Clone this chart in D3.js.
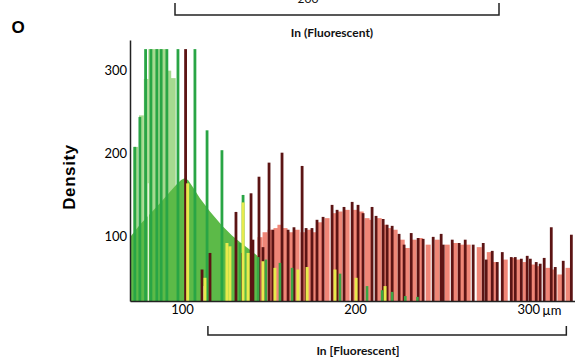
<!DOCTYPE html>
<html>
<head>
<meta charset="utf-8">
<script src="https://cdn.jsdelivr.net/npm/d3@7"></script>
<style>
  body { margin: 0; background: #fff; }
  svg { display: block; }
  .tick text { font-family: Lato, "Liberation Sans", sans-serif; font-size: 13px; fill: #000; }
</style>
</head>
<body>
<div id="chart"></div>
<script>
// density values, [x (um), density]
var greenArea = [[70,99],[75.7,114],[81.5,127],[87.3,140],[93.1,154],[97,163],[99.5,168],[101.5,170],[103.5,168],[105.8,161],[110.4,146],[116.2,130],[123.1,113],[128.9,101],[134.7,91],[139.3,84],[143.9,76],[146,72]];
var paleBars = [[73.3,208],[76.6,246],[79.4,290],[82,326],[84.4,326],[87,326],[89.6,326],[92.4,300],[95,291]];
var greenSpikes = [[72.8,208],[75.7,244],[79,326],[82.1,326],[85.5,326],[88,326],[91.3,326],[97.7,326],[107.5,326],[114.5,228],[123.1,204],[135.3,150]];
var whiteLines = [[80.6,164],[112.5,40]];
var salmonBars = [[145.1,99],[148,105],[150.9,108],[154.3,110],[156.6,114],[159.5,110],[163,105],[166.5,108],[169.9,105],[173.4,108],[176.3,105],[179.8,117],[183.8,122],[187.9,128],[191.3,130],[195.4,132],[200,132],[203.5,130],[206.9,122],[208.7,120],[213.9,122],[217.3,114],[220.2,110],[223.1,108],[227.2,96],[230.1,86],[234.1,96],[237.6,98],[242.2,90],[247.4,96],[253.2,90],[257.8,92],[261.8,90],[265.3,90],[271.7,87],[277.5,81],[280.9,69],[286.7,72],[291.3,74],[294.2,72],[298.2,69],[302.9,66],[305.8,64],[311.4,62],[314.3,60],[318.3,54],[323,62]];
var maroonSpikes = [[102.1,326],[111.6,60],[116.2,80],[131.2,129.5],[134.7,80],[139.9,152],[141,96],[144.5,172],[146.8,87],[150.3,189],[152.5,108],[157.8,201],[161.3,108],[164.7,111],[169.4,185],[171.7,110],[175.1,110],[178,120],[181.5,123.5],[186.7,138],[189.6,132],[193.6,135.5],[198.3,141.6],[201.7,138],[204.6,128],[209.8,135.5],[212.1,124.7],[216.2,121],[218.5,114],[221.4,112.7],[225.4,103],[228.3,90],[232.4,104],[236.4,98],[239.3,97],[245.1,99.4],[249.7,103],[250.9,90],[256.1,96],[260.1,92],[263.6,96],[268.2,90],[274,92],[275.7,72],[279.2,82.5],[282.1,69],[285,81],[290.2,75],[292.5,75],[296,73],[299.4,76.5],[301.2,73],[304.6,69],[306.9,67],[309.2,74],[313.3,111],[315.6,63],[320.2,70.5],[324.9,102]];
var yellowSpikes = [[103.3,164],[113.3,50],[126,92],[127.7,88],[135.3,141],[138.2,80],[146.8,70],[153.7,62],[167,60],[172.3,63],[188.4,60],[200.6,50],[217.3,40]];
var greenTail = [[133.5,92],[144,75],[148.5,72],[156.6,68],[163.6,62],[191.3,55],[206.9,40],[215.6,35],[221.4,33],[229,28],[236,27]];
var xTicks = [100, 200, 300];
var yTicks = [100, 200, 300];

var width = 575, height = 362;
var svg = d3.select("#chart").append("svg")
  .attr("width", width)
  .attr("height", height);

var x = d3.scaleLinear().domain([70, 327]).range([130, 575]);
var y = d3.scaleLinear().domain([22, 337]).range([301, 40]);
var base = y.domain()[0];

svg.append("clipPath").attr("id", "plot")
  .append("rect").attr("x", 130).attr("y", 40).attr("width", 445).attr("height", 261);

var g = svg.append("g").attr("clip-path", "url(#plot)");

function bars(data, color, half) {
  g.append("g").selectAll("rect")
    .data(data)
    .enter().append("rect")
    .attr("x", function (d) { return x(d[0] - half); })
    .attr("width", function (d) { return x(d[0] + half) - x(d[0] - half); })
    .attr("y", function (d) { return y(d[1]); })
    .attr("height", function (d) { return y(base) - y(d[1]); })
    .attr("fill", color);
}

function spikes(data, color, w) {
  g.append("g").selectAll("line")
    .data(data)
    .enter().append("line")
    .attr("x1", function (d) { return x(d[0]); })
    .attr("x2", function (d) { return x(d[0]); })
    .attr("y1", y(base))
    .attr("y2", function (d) { return y(d[1]); })
    .attr("stroke", color)
    .attr("stroke-width", w);
}

bars(paleBars, "#a6da90", 1.4);

g.append("path")
  .datum(greenArea)
  .attr("fill", "#5cba48")
  .attr("d", d3.area()
    .x(function (d) { return x(d[0]); })
    .y0(y(base))
    .y1(function (d) { return y(d[1]); }));

spikes(greenSpikes, "#29a545", 2.8);
spikes(whiteLines, "#e8f5e0", 1.2);
bars(salmonBars, "#ef8677", 1.45);
spikes(maroonSpikes, "#5c1414", 2.8);
spikes(yellowSpikes, "#e8ea4c", 3);
spikes(greenTail, "#3aa544", 2.6);

// axes
var xAxis = svg.append("g")
  .attr("transform", "translate(0," + y(base) + ")")
  .call(d3.axisBottom(x).tickValues(xTicks).tickSize(0).tickSizeOuter(0).tickPadding(4));
var yAxis = svg.append("g")
  .attr("transform", "translate(" + x(70) + ",0)")
  .call(d3.axisLeft(y).tickValues(yTicks).tickSize(0).tickSizeOuter(0).tickPadding(3));
svg.selectAll(".domain").attr("stroke", "#222").attr("stroke-width", 1.5);

svg.append("text")
  .attr("x", x(300) + 14).attr("y", 315)
  .style("font-family", "Lato, sans-serif").style("font-size", "13px").attr("fill", "#000")
  .text("µm");

// bracket below the axis
svg.append("path")
  .attr("d", "M" + x(115) + ",326V335H" + x(322) + "V326")
  .attr("fill", "none").attr("stroke", "#222").attr("stroke-width", 1.5);
svg.append("text")
  .attr("x", 358).attr("y", 355).attr("text-anchor", "middle")
  .style("font-family", "Lato, sans-serif").style("font-size", "12px").style("font-weight", "bold").attr("fill", "#111")
  .text("In [Fluorescent]");

// top bracket from the panel above
svg.append("path")
  .attr("d", "M175,3V15H499V3")
  .attr("fill", "none").attr("stroke", "#222").attr("stroke-width", 1.5);
svg.append("text")
  .attr("x", 308).attr("y", 3).attr("text-anchor", "middle")
  .style("font-family", "Lato, sans-serif").style("font-size", "12px").attr("fill", "#111")
  .text("200");
svg.append("text")
  .attr("x", 332).attr("y", 37).attr("text-anchor", "middle")
  .style("font-family", "Lato, sans-serif").style("font-size", "12px").style("font-weight", "bold").attr("fill", "#111")
  .text("In (Fluorescent)");

svg.append("text")
  .attr("x", 18).attr("y", 33).attr("text-anchor", "middle")
  .style("font-family", "'Liberation Sans', Arial, sans-serif").style("font-size", "17px").style("font-weight", "bold")
  .text("O");

svg.append("text")
  .attr("transform", "translate(75,177) rotate(-90)")
  .attr("text-anchor", "middle")
  .style("font-family", "'Liberation Sans', Arial, sans-serif").style("font-size", "17px").style("font-weight", "bold")
  .style("letter-spacing", "0.6px")
  .text("Density");
</script>
</body>
</html>
